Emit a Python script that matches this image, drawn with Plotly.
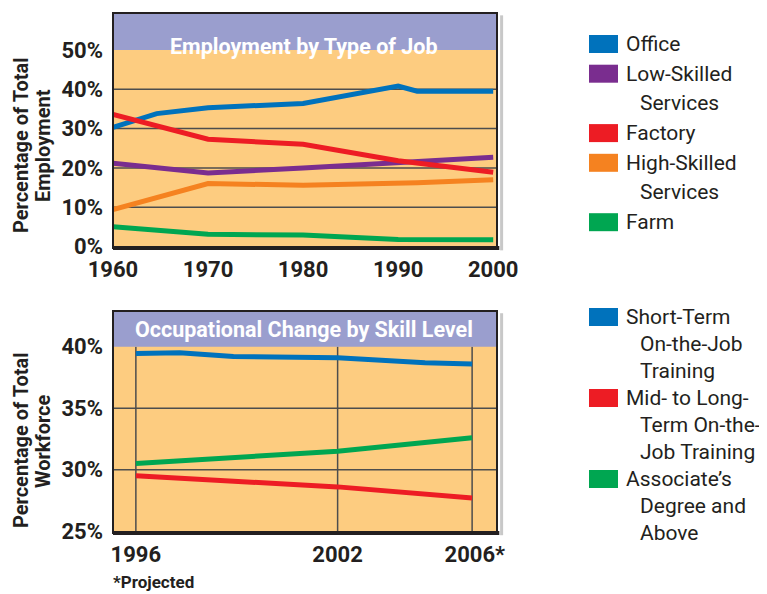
import plotly.graph_objects as go

# ---- data: Employment by Type of Job ----
job_names = ["Office", "Low-Skilled Services", "Factory", "High-Skilled Services", "Farm"]
job_colors = ["#0072BC", "#7A2D8F", "#ED1C24", "#F58220", "#00A651"]
office_years = [1960, 1964.6, 1970, 1980, 1990, 1992, 2000]
office_pct = [30.3, 33.8, 35.3, 36.4, 40.8, 39.5, 39.5]
job_years = [1960, 1970, 1980, 1990, 2000]
low_skilled_pct = [21.2, 18.7, 20.0, 21.4, 22.7]
factory_pct = [33.6, 27.3, 26.0, 21.8, 18.9]
high_skilled_years = [1960, 1970, 1980, 1990, 1992, 2000]
high_skilled_pct = [9.4, 16.0, 15.6, 16.0, 16.2, 17.0]
farm_pct = [5.0, 3.1, 2.9, 1.8, 1.7]
job_xticks = [1960, 1970, 1980, 1990, 2000]
job_yticks = [0, 10, 20, 30, 40, 50]

# ---- data: Occupational Change by Skill Level ----
skill_names = ["Short-Term On-the-Job Training", "Mid- to Long-Term On-the-Job Training",
               "Associate's Degree and Above"]
skill_colors = ["#0072BC", "#ED1C24", "#00A651"]
short_years = [1996, 1997.3, 1998.9, 2002, 2004.6, 2006]
short_pct = [39.45, 39.5, 39.2, 39.1, 38.7, 38.6]
skill_years = [1996, 2002, 2006]
mid_long_pct = [29.5, 28.6, 27.7]
associate_pct = [30.5, 31.5, 32.6]
skill_xticks = [1996, 2002, 2006]
skill_xlabels = ["1996", "2002", "\u00a02006*"]
skill_yticks = [25, 30, 35, 40]

# page has an 8px body margin, so the figure is drawn 8px in from the corner
OFF = 8
W, H = 767 - OFF, 594 - OFF
FONT = "Roboto"
INK = "#231F20"
ORANGE_BG = "#FDCC80"
BAND = "#9A9ECE"


def px(x):
    return (x - OFF) / W


def py(y):
    return 1 - (y - OFF) / H


fig = go.Figure()

top_series = [
    (office_years, office_pct),
    (job_years, low_skilled_pct),
    (job_years, factory_pct),
    (high_skilled_years, high_skilled_pct),
    (job_years, farm_pct),
]
for name, color, (xs, ys) in zip(job_names, job_colors, top_series):
    fig.add_trace(go.Scatter(x=xs, y=ys, mode="lines", name=name, xaxis="x", yaxis="y",
                             line={"color": color, "width": 5}, showlegend=False))

bottom_series = [
    (short_years, short_pct),
    (skill_years, mid_long_pct),
    (skill_years, associate_pct),
]
for name, color, (xs, ys) in zip(skill_names, skill_colors, bottom_series):
    fig.add_trace(go.Scatter(x=xs, y=ys, mode="lines", name=name, xaxis="x2", yaxis="y2",
                             line={"color": color, "width": 5}, showlegend=False))

tick_font = {"family": FONT, "size": 22, "color": INK, "weight": "bold"}
axis_common = {"showgrid": False, "zeroline": False, "showline": False, "ticks": "",
               "tickfont": tick_font, "fixedrange": True, "automargin": False}

fig.update_layout(
    width=W, height=H,
    margin={"l": 0, "r": 0, "t": 0, "b": 0, "autoexpand": False},
    paper_bgcolor="white",
    plot_bgcolor=ORANGE_BG,
    xaxis={**axis_common, "domain": [px(113), px(497)], "range": [1960, 2000.4],
           "tickvals": job_xticks, "anchor": "y", "ticklabelstandoff": 6},
    yaxis={**axis_common, "domain": [py(248), py(13)], "range": [-0.38, 59.4],
           "tickvals": job_yticks, "ticktext": [f"{v}%" for v in job_yticks],
           "anchor": "x", "ticklabelstandoff": 9},
    xaxis2={**axis_common, "domain": [px(113), px(497)], "range": [1995.32, 2006.74],
            "tickvals": skill_xticks, "ticktext": skill_xlabels, "anchor": "y2",
            "ticklabelstandoff": 6},
    yaxis2={**axis_common, "domain": [py(533), py(311)], "range": [24.85, 42.9],
            "tickvals": skill_yticks, "ticktext": [f"{v}%" for v in skill_yticks],
            "anchor": "x2", "ticklabelstandoff": 9},
)

shapes = []
# horizontal gridlines (top)
for v in job_yticks[1:-1]:
    shapes.append(dict(type="line", xref="x domain", yref="y", x0=0, x1=1, y0=v, y1=v,
                       line={"color": "#4D4D4D", "width": 1.5}, layer="below"))
# gridlines (bottom)
for v in skill_yticks[1:-1]:
    shapes.append(dict(type="line", xref="x2 domain", yref="y2", x0=0, x1=1, y0=v, y1=v,
                       line={"color": "#4D4D4D", "width": 1.5}, layer="below"))
for v in skill_xticks:
    shapes.append(dict(type="line", xref="x2", yref="y2", x0=v, x1=v, y0=24.85, y1=40,
                       line={"color": "#4D4D4D", "width": 1.5}, layer="below"))
# title bands
shapes.append(dict(type="rect", xref="x domain", yref="y", x0=0, x1=1, y0=50, y1=59.4,
                   fillcolor=BAND, line={"width": 0}, layer="above"))
shapes.append(dict(type="rect", xref="x2 domain", yref="y2", x0=0, x1=1, y0=40, y1=42.9,
                   fillcolor=BAND, line={"width": 0}, layer="above"))
# frames with heavier bottom and light shadow on the right
for xd, yd in [("x domain", "y domain"), ("x2 domain", "y2 domain")]:
    shapes.append(dict(type="line", xref=xd, yref=yd, x0=1.012, x1=1.012, y0=-0.01, y1=0.99,
                       line={"color": "#C8C8C8", "width": 3}, layer="above"))
    shapes.append(dict(type="rect", xref=xd, yref=yd, x0=0, x1=1, y0=0, y1=1,
                       line={"color": INK, "width": 2}, layer="above"))
    shapes.append(dict(type="line", xref=xd, yref=yd, x0=0, x1=1.006, y0=0, y1=0,
                       line={"color": INK, "width": 4}, layer="above"))

bold = {"family": FONT, "color": INK, "weight": "bold"}
annotations = [
    dict(text="Employment by Type of Job", x=px(304), y=py(32), xref="paper", yref="paper",
         showarrow=False, font={**bold, "size": 21.5, "color": "white"}),
    dict(text="Occupational Change by Skill Level", x=px(304), y=py(329), xref="paper",
         yref="paper", showarrow=False, font={**bold, "size": 21.5, "color": "white"}),
    dict(text="*Projected", x=px(111), y=py(582), xref="paper", yref="paper",
         xanchor="left", yanchor="middle", showarrow=False, font={**bold, "size": 17}),
]

# rotated y-axis titles, one annotation per line
y_titles = [(["Percentage of Total", "Employment"], 146),
            (["Percentage of Total", "Workforce"], 441)]
for lines, yc in y_titles:
    for i, line in enumerate(lines):
        annotations.append(dict(text=line, x=px(21 + 22 * i), y=py(yc), xref="paper",
                                yref="paper", xanchor="center", yanchor="middle",
                                showarrow=False, textangle=-90, font={**bold, "size": 20}))

# legends drawn as swatches + text lines
top_legend_lines = [["Office"], ["Low-Skilled", "Services"], ["Factory"],
                    ["High-Skilled", "Services"], ["Farm"]]
bottom_legend_lines = [["Short-Term", "On-the-Job", "Training"],
                       ["Mid- to Long-", "Term On-the-", "Job Training"],
                       ["Associate\u2019s", "Degree and", "Above"]]


def add_legend(groups, colors, y_start, step):
    y = y_start
    for lines, color in zip(groups, colors):
        shapes.append(dict(type="rect", xref="paper", yref="paper", x0=px(589), x1=px(618),
                           y0=py(y - 9), y1=py(y + 9), fillcolor=color, line={"width": 0}))
        for i, line in enumerate(lines):
            annotations.append(dict(text=line, x=px(624 if i == 0 else 638), y=py(y),
                                    xref="paper", yref="paper", xanchor="left",
                                    yanchor="middle", showarrow=False,
                                    font={"family": FONT, "size": 21, "color": INK}))
            y += step


add_legend(top_legend_lines, job_colors, 44, 29.7)
add_legend(bottom_legend_lines, skill_colors, 317, 27)

fig.update_layout(shapes=shapes, annotations=annotations)
fig.write_html("out.html")
